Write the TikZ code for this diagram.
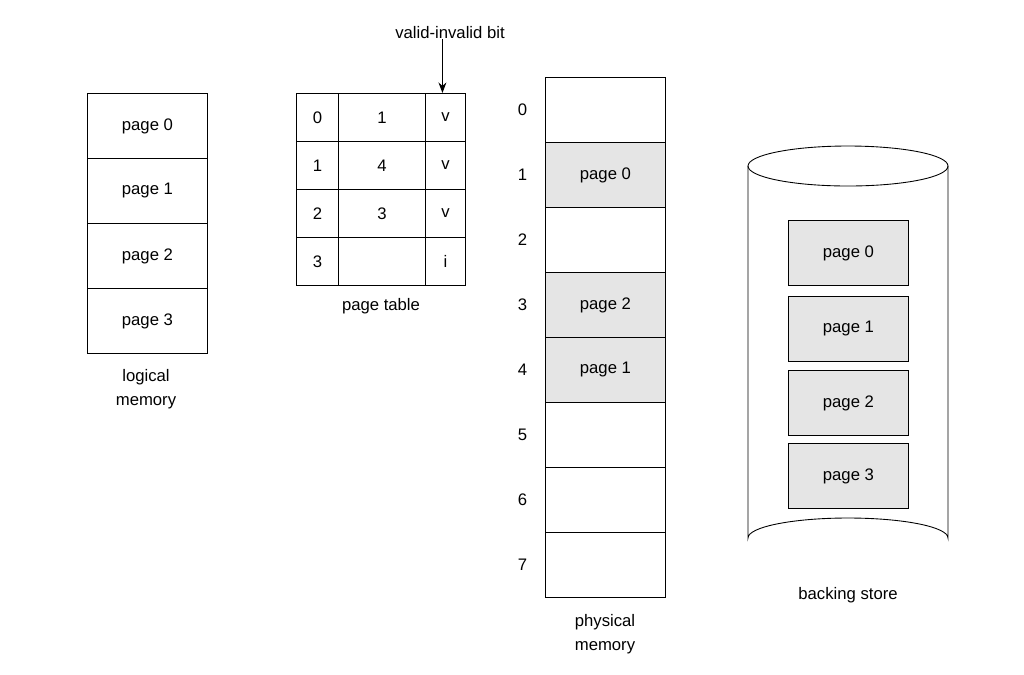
\documentclass[tikz,border=0pt]{standalone}
\usepackage{fontspec}
\setmainfont{Liberation Sans}
\usetikzlibrary{positioning,arrows.meta}
\begin{document}
\begin{tikzpicture}
[x=0.02cm, y=-0.02cm, font=\fontsize{9.5}{11.5}\selectfont,
% STYLES
% cell style for the memory blocks
cell/.style={rectangle, draw, line width=0.5pt, anchor=north west, inner sep=0pt, minimum width=120*0.02cm},
page/.style={cell, fill=black!10},
% label style for captions below the blocks
caption/.style={align=center, inner sep=0pt}]

\useasboundingbox (0,0) rectangle (1024,674);

% logical memory
\foreach \i in {0,...,3}
  \node [cell, minimum height=65*0.02cm] (lm\i) at (87,93+65*\i) {page \i};
\node [caption] (lm-label) at (146,389) {logical\\[2pt]memory};

% page table
\foreach \i/\f/\b in {0/1/v,1/4/v,2/3/v,3//i} {
  \node [cell, minimum width=42*0.02cm, minimum height=48*0.02cm] (pn\i) at (296,93+48*\i) {\i};
  \node [cell, minimum width=87*0.02cm, minimum height=48*0.02cm] (pf\i) at (338,93+48*\i) {\f};
  \node [cell, minimum width=40*0.02cm, minimum height=48*0.02cm] (pb\i) at (425,93+48*\i) {\b};
}
\node [caption] (pt-label) at (381,306) {page table};
\node [caption] (vi-label) at (450,33) {valid-invalid bit};
\draw [-{Stealth[length=6pt]}, line width=0.6pt] (vi-label.south -| pb0) ++(-3,0) coordinate (vi-top) -- (vi-top |- pb0.north);

% physical memory
\foreach \i in {0,2,5,6,7}
  \node [cell, minimum height=65*0.02cm] (pm\i) at (545,77+65*\i) {};
\foreach \i/\p in {1/0,3/2,4/1}
  \node [page, minimum height=65*0.02cm] (pm\i) at (545,77+65*\i) {page \p};
\foreach \i in {0,...,7}
  \node [left=10pt of pm\i.west, inner sep=0pt] (pmn\i) {\i};
\node [caption] (pm-label) at (605,634) {physical\\[2pt]memory};

% backing store
\draw [line width=0.5pt, fill=white] (748,166) -- (748,538) arc[start angle=180, end angle=360, x radius=100, y radius=20] -- (948,166);
\draw [line width=0.5pt] (848,166) ellipse [x radius=100, y radius=20];
\foreach \i/\y in {0/220,1/296,2/370,3/443}
  \node [page, minimum height=65*0.02cm] (bs\i) at (788,\y) {page \i};
\node [caption] (bs-label) at (848,595) {backing store};

\end{tikzpicture}
\end{document}
